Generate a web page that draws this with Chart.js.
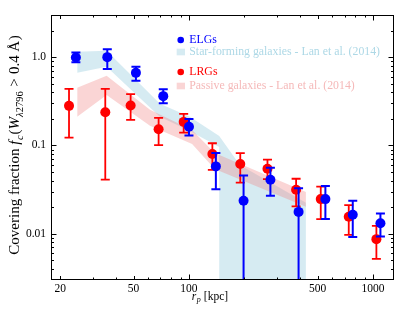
<!DOCTYPE html>
<html>
<head>
<meta charset="utf-8">
<script src="https://cdn.jsdelivr.net/npm/chart.js@4/dist/chart.umd.min.js"></script>
<style>
  html, body { margin: 0; padding: 0; background: #fff; }
</style>
</head>
<body>
<canvas id="chart" width="415" height="312"></canvas>
<script>
const SERIF = "'Liberation Serif', 'DejaVu Serif', serif";

// ELGs (blue points) - r_p [kpc], covering fraction, error bar ends
const elgR  = [24.3, 36.0, 51.5, 72.5, 100, 140, 198, 277, 394, 551, 776, 1097];
const elgFc = [0.99, 1.0, 0.664, 0.362, 0.163, 0.058, 0.0237, 0.041, 0.0177, 0.0247, 0.0164, 0.0132];
const elgHi = [1.13, 1.23, 0.78, 0.434, 0.2, 0.082, 0.0457, 0.056, 0.0329, 0.0347, 0.0237, 0.017];
const elgLo = [0.877, 0.736, 0.54, 0.30, 0.13, 0.032, 0.001, 0.027, 0.001, 0.0147, 0.0092, 0.0093];

// LRGs (red points)
const lrgR  = [22.3, 35.1, 48.2, 68.4, 93.6, 134, 190, 267, 382, 520, 738, 1043];
const lrgFc = [0.281, 0.238, 0.283, 0.153, 0.185, 0.08, 0.0616, 0.0545, 0.0315, 0.0247, 0.0156, 0.0087];
const lrgHi = [0.437, 0.437, 0.381, 0.205, 0.228, 0.106, 0.082, 0.069, 0.042, 0.0343, 0.0211, 0.0123];
const lrgLo = [0.123, 0.041, 0.195, 0.101, 0.14, 0.053, 0.038, 0.0416, 0.0204, 0.0147, 0.00975, 0.0052];

// Lan et al. (2014) bands
const sfX  = [24.7, 35.7, 69.5, 101, 146, 146, 189, 432];
const sfHi = [1.15, 1.18, 0.296, 0.211, 0.128, 0.128, 0.060, 0.0224];
const sfLo = [0.664, 0.777, 0.211, 0.146, 0.096, 0.0001, 0.0001, 0.0001];

const pasX  = [24.7, 35.7, 61.4, 104, 138, 432];
const pasHi = [0.449, 0.614, 0.253, 0.150, 0.0824, 0.0298];
const pasLo = [0.211, 0.374, 0.167, 0.104, 0.0543, 0.0202];

// ticks
const xTicks = [20, 30, 40, 50, 60, 70, 80, 90, 100, 200, 300, 400, 500, 600, 700, 800, 900, 1000];
const xLabeled = [20, 50, 100, 500, 1000];
const xDecades = [100, 1000];
const yTicks = [0.004, 0.005, 0.006, 0.007, 0.008, 0.009, 0.01, 0.02, 0.03, 0.04, 0.05, 0.06, 0.07, 0.08, 0.09,
                0.1, 0.2, 0.3, 0.4, 0.5, 0.6, 0.7, 0.8, 0.9, 1, 2];
const yLabelValues = [0.01, 0.1, 1];
const yLabelText = ['0.01', '0.1', '1.0'];

const BLUE = '#0000ff';
const RED = '#ff0000';
const SF_FILL = 'rgba(173, 216, 230, 0.5)';
const PAS_FILL = 'rgba(240, 128, 128, 0.33)';

const pts = (xs, ys) => xs.map((x, i) => ({ x: x, y: ys[i] }));

// draw a label made of several font runs (italic / subscript), centred on (x, y)
function drawRich(ctx, parts, size, x, y, rot) {
  ctx.save();
  ctx.translate(x, y);
  ctx.rotate(rot);
  ctx.fillStyle = '#000';
  ctx.textBaseline = 'alphabetic';
  const fontOf = p => (p[1] ? 'italic ' : '') + (p[2] ? size * 0.7 : size) + 'px ' + SERIF;
  let total = 0;
  const widths = parts.map(p => {
    ctx.font = fontOf(p);
    const w = (p[3] || 0) + ctx.measureText(p[0]).width;
    total += w;
    return w;
  });
  let cur = -total / 2;
  parts.forEach((p, i) => {
    ctx.font = fontOf(p);
    ctx.fillText(p[0], cur + (p[3] || 0), p[2] ? size * 0.25 : 0);
    cur += widths[i];
  });
  ctx.restore();
}

const errorBars = {
  id: 'errorBars',
  beforeDatasetDraw(chart, args) {
    const ds = chart.data.datasets[args.index];
    if (!ds.errHi) return;
    const { ctx, chartArea: a } = chart;
    const y = chart.scales.y;
    ctx.save();
    ctx.beginPath();
    ctx.rect(a.left, a.top, a.right - a.left, a.bottom - a.top);
    ctx.clip();
    ctx.strokeStyle = ds.backgroundColor;
    ctx.lineWidth = ds.errWidth;
    ctx.beginPath();
    args.meta.data.forEach((pt, i) => {
      const top = y.getPixelForValue(ds.errHi[i]);
      const bot = y.getPixelForValue(ds.errLo[i]);
      ctx.moveTo(pt.x, top); ctx.lineTo(pt.x, bot);
      ctx.moveTo(pt.x - 4.5, top); ctx.lineTo(pt.x + 4.5, top);
      ctx.moveTo(pt.x - 4.5, bot); ctx.lineTo(pt.x + 4.5, bot);
    });
    ctx.stroke();
    ctx.restore();
  }
};

const frameAndTitles = {
  id: 'frameAndTitles',
  afterDraw(chart) {
    const { ctx, chartArea: a, scales: { x, y } } = chart;
    ctx.save();
    ctx.strokeStyle = '#000';
    ctx.lineWidth = 1;
    ctx.beginPath();
    xTicks.forEach(v => {
      const px = Math.round(x.getPixelForValue(v)) + 0.5;
      const len = xDecades.includes(v) ? 5.5 : (xLabeled.includes(v) ? 4 : 2.5);
      ctx.moveTo(px, a.bottom); ctx.lineTo(px, a.bottom - len);
      ctx.moveTo(px, a.top); ctx.lineTo(px, a.top + len);
    });
    yTicks.forEach(v => {
      const py = Math.round(y.getPixelForValue(v)) + 0.5;
      const len = yLabelValues.includes(v) ? 5.5 : 3;
      ctx.moveTo(a.left, py); ctx.lineTo(a.left + len, py);
      ctx.moveTo(a.right, py); ctx.lineTo(a.right - len, py);
    });
    ctx.stroke();
    ctx.strokeRect(a.left + 0.5, a.top + 0.5, a.right - a.left - 1, a.bottom - a.top - 1);
    ctx.restore();

    // axis titles
    drawRich(ctx, [
      ['Covering fraction ', false, false, 0],
      ['f', true, false, 0],
      ['c', true, true, 0.5],
      ['(', false, false, 1],
      ['W', true, false, 0],
      ['λ', true, true, 0],
      ['2796', false, true, 0],
      ['>', false, false, 4.5],
      ['0.4', false, false, 4.5],
      ['Å', false, false, 3.5],
      [')', false, false, 0.5]
    ], 15, 19, 145, -Math.PI / 2);
    drawRich(ctx, [
      ['r', true, false, 0],
      ['p', true, true, 0.5],
      ['[kpc]', false, false, 3]
    ], 11.5, 210, 299.5, 0);

    // legend
    const rows = [
      { ds: 0, kind: 'dot', y: 40, text: BLUE },
      { ds: 5, kind: 'patch', y: 52, text: '#add8e6' },
      { ds: 1, kind: 'dot', y: 72, text: RED },
      { ds: 3, kind: 'patch', y: 86, text: '#f5b9b9' }
    ];
    ctx.save();
    ctx.font = '11.8px ' + SERIF;
    ctx.textBaseline = 'middle';
    rows.forEach(r => {
      const ds = chart.data.datasets[r.ds];
      ctx.fillStyle = ds.backgroundColor;
      if (r.kind === 'dot') {
        ctx.beginPath();
        ctx.arc(180.7, r.y, 3.3, 0, Math.PI * 2);
        ctx.fill();
      } else {
        ctx.fillRect(176.7, r.y - 3.3, 8.3, 6.6);
      }
      ctx.fillStyle = r.text;
      ctx.fillText(ds.label, 189.3, r.y);
    });
    ctx.restore();
  }
};

new Chart(document.getElementById('chart'), {
  type: 'scatter',
  data: {
    datasets: [
      { label: 'ELGs', data: pts(elgR, elgFc), errHi: elgHi, errLo: elgLo, errWidth: 2,
        backgroundColor: BLUE, pointRadius: 5, pointBorderWidth: 0, order: 0 },
      { label: 'LRGs', data: pts(lrgR, lrgFc), errHi: lrgHi, errLo: lrgLo, errWidth: 1.8,
        backgroundColor: RED, pointRadius: 5, pointBorderWidth: 0, order: 1 },
      { type: 'line', label: 'passive lower', data: pts(pasX, pasLo), borderWidth: 0,
        pointRadius: 0, fill: false, order: 3 },
      { type: 'line', label: 'Passive galaxies - Lan et al. (2014)', data: pts(pasX, pasHi), borderWidth: 0,
        pointRadius: 0, fill: 2, backgroundColor: PAS_FILL, order: 2 },
      { type: 'line', label: 'star-forming lower', data: pts(sfX, sfLo), borderWidth: 0,
        pointRadius: 0, fill: false, order: 5 },
      { type: 'line', label: 'Star-forming galaxies - Lan et al. (2014)', data: pts(sfX, sfHi), borderWidth: 0,
        pointRadius: 0, fill: 4, backgroundColor: SF_FILL, order: 4 }
    ]
  },
  options: {
    responsive: false,
    animation: false,
    layout: { padding: { top: 15, right: 21, left: 0, bottom: 0 } },
    plugins: { legend: { display: false }, tooltip: { enabled: false } },
    scales: {
      x: {
        type: 'logarithmic', min: 17.8, max: 1300,
        afterBuildTicks: s => { s.ticks = xTicks.map(v => ({ value: v })); },
        afterFit: s => { s.height = 32; },
        grid: { display: false, drawTicks: false },
        border: { display: false },
        ticks: {
          autoSkip: false, maxRotation: 0, padding: 2, color: '#000',
          font: { family: SERIF, size: 11.5 },
          callback: v => xLabeled.includes(v) ? String(v) : ''
        }
      },
      y: {
        type: 'logarithmic', min: 0.003, max: 3.0,
        afterBuildTicks: s => { s.ticks = yTicks.map(v => ({ value: v })); },
        afterFit: s => { s.width = 51; },
        grid: { display: false, drawTicks: false },
        border: { display: false },
        ticks: {
          autoSkip: false, padding: 5, color: '#000',
          font: { family: SERIF, size: 11.5 },
          callback: v => {
            const i = yLabelValues.indexOf(v);
            return i >= 0 ? yLabelText[i] : '';
          }
        }
      }
    }
  },
  plugins: [errorBars, frameAndTitles]
});
</script>
</body>
</html>
